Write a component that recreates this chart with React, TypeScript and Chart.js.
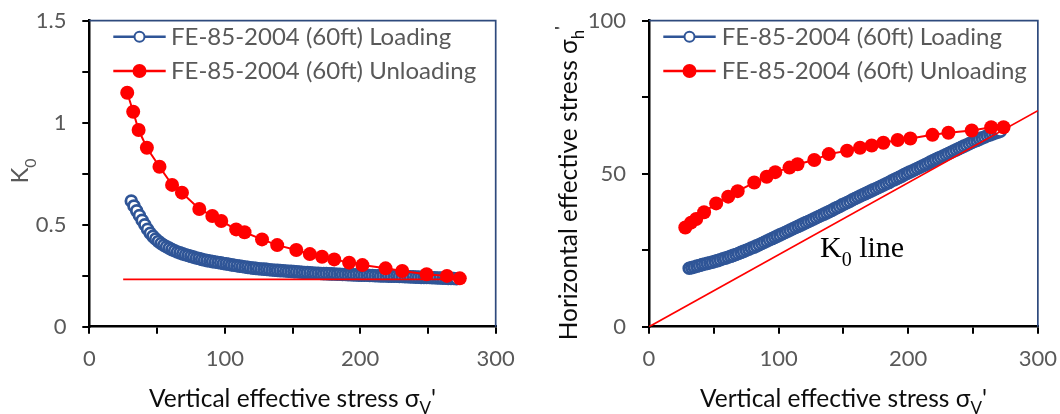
import React, { useEffect, useRef } from 'react';
import { Chart, registerables } from 'chart.js';

Chart.register(...registerables);

// ---------- DATA ----------
const legendLabels = ['FE-85-2004 (60ft) Loading', 'FE-85-2004 (60ft) Unloading'];

// Loading (open blue circles)
const loadSigmaV = [
  31, 33, 35, 37, 39, 41, 43, 45, 47, 49,
  51, 53, 55, 57, 59, 61, 63, 65, 67, 69,
  71, 73, 75, 77, 79, 81, 83, 85, 87, 89,
  91, 93, 95, 97, 99, 101, 103, 105, 107, 109,
  111, 113, 115, 117, 119, 121, 123, 125, 127, 129,
  131, 133, 135, 137, 139, 141, 143, 145, 147, 149,
  151, 153, 155, 157, 159, 161, 163, 165, 167, 169,
  171, 173, 175, 177, 179, 181, 183, 185, 187, 189,
  191, 193, 195, 197, 199, 201, 203, 205, 207, 209,
  211, 213, 215, 217, 219, 221, 223, 225, 227, 229,
  231, 233, 235, 237, 239, 241, 243, 245, 247, 249,
  251, 253, 255, 257, 259, 261, 263, 265, 267, 269,
  271,
];
const loadK = [
  0.616, 0.592, 0.568, 0.545, 0.522, 0.5, 0.478, 0.458, 0.443, 0.43,
  0.418, 0.408, 0.399, 0.392, 0.385, 0.378, 0.372, 0.366, 0.362, 0.357,
  0.353, 0.349, 0.345, 0.341, 0.337, 0.334, 0.33, 0.327, 0.324, 0.322,
  0.319, 0.317, 0.315, 0.313, 0.31, 0.308, 0.306, 0.303, 0.301, 0.299,
  0.297, 0.295, 0.293, 0.291, 0.289, 0.287, 0.286, 0.284, 0.283, 0.282,
  0.281, 0.279, 0.278, 0.277, 0.276, 0.275, 0.274, 0.273, 0.272, 0.271,
  0.27, 0.269, 0.268, 0.267, 0.266, 0.265, 0.264, 0.263, 0.262, 0.262,
  0.261, 0.26, 0.26, 0.259, 0.259, 0.258, 0.257, 0.257, 0.256, 0.256,
  0.255, 0.255, 0.254, 0.254, 0.253, 0.253, 0.252, 0.252, 0.251, 0.251,
  0.25, 0.25, 0.249, 0.249, 0.249, 0.248, 0.248, 0.247, 0.247, 0.246,
  0.246, 0.245, 0.245, 0.244, 0.244, 0.243, 0.243, 0.242, 0.242, 0.241,
  0.241, 0.24, 0.24, 0.239, 0.239, 0.238, 0.238, 0.237, 0.237, 0.236,
  0.235,
];
const loadSigmaH = [
  19.1, 19.3, 19.5, 19.8, 20.0, 20.3, 20.5, 20.7, 20.9, 21.1,
  21.4, 21.6, 21.9, 22.2, 22.4, 22.7, 23.0, 23.3, 23.6, 23.9,
  24.3, 24.6, 25.0, 25.3, 25.7, 26.0, 26.4, 26.8, 27.2, 27.6,
  28.0, 28.4, 28.8, 29.2, 29.6, 30.0, 30.4, 30.8, 31.2, 31.6,
  32.0, 32.4, 32.8, 33.2, 33.6, 34.0, 34.4, 34.8, 35.2, 35.6,
  36.0, 36.4, 36.8, 37.2, 37.6, 38.0, 38.5, 38.9, 39.3, 39.8,
  40.2, 40.6, 41.0, 41.5, 41.9, 42.3, 42.7, 43.1, 43.5, 43.9,
  44.3, 44.7, 45.1, 45.5, 45.9, 46.3, 46.7, 47.1, 47.6, 48.0,
  48.4, 48.8, 49.2, 49.7, 50.1, 50.5, 50.9, 51.3, 51.7, 52.1,
  52.5, 52.9, 53.3, 53.8, 54.2, 54.6, 55.0, 55.4, 55.8, 56.2,
  56.6, 57.0, 57.4, 57.8, 58.2, 58.6, 59.0, 59.4, 59.8, 60.2,
  60.6, 60.9, 61.3, 61.7, 62.0, 62.4, 62.7, 63.0, 63.3, 63.6,
  63.9,
];

// Unloading (filled red circles)
const unloadSigmaV = [28, 32.4, 36.4, 42.5, 51.8, 61.1, 68.4, 81.2, 90.8, 97.4, 108.4, 114.6, 127.5, 138.7, 152.8, 162.8, 171.8, 180.8, 191.8, 201.6, 218.7, 231, 249, 264, 273.5];
const unloadK = [1.147, 1.054, 0.964, 0.877, 0.784, 0.695, 0.657, 0.577, 0.543, 0.518, 0.477, 0.463, 0.428, 0.4, 0.376, 0.356, 0.343, 0.33, 0.314, 0.302, 0.286, 0.273, 0.257, 0.249, 0.237];
const unloadSigmaH = [32.4, 34.0, 35.2, 37.4, 40.3, 42.5, 44.3, 47.1, 49.0, 50.5, 52.0, 53.1, 54.5, 56.4, 57.5, 58.5, 59.2, 60.1, 61.0, 61.5, 62.7, 63.4, 64.1, 65.2, 65.2];

// K0 lines
const k0LeftX = [25, 272];
const k0LeftY = [0.232, 0.232];
const k0RightX = [0, 300];
const k0RightY = [0, 70.6];

// Axes
const xMin = 0, xMax = 300, xStep = 50, xLabelEvery = 100;
const yLeftMax = 1.5, yLeftStep = 0.25, yLeftLabelEvery = 0.5;
const yRightMax = 100, yRightStep = 25, yRightLabelEvery = 50;

// ---------- STYLE ----------
const BLUE = '#2F5597';
const RED = '#FF0000';
const GREY = '#595959';
const NAVY = '#2E4A7D';
const SANS = 'Lato';
const W = 530, H = 414;

type Seg = { t: string; sub?: boolean; sup?: boolean };

function drawRich(ctx: CanvasRenderingContext2D, segs: Seg[], x: number, y: number, rot: number,
  family: string, size: number, color: string, align: 'center' | 'left') {
  ctx.save();
  ctx.translate(x, y);
  ctx.rotate(rot);
  ctx.fillStyle = color;
  ctx.textBaseline = 'alphabetic';
  ctx.textAlign = 'left';
  const fontOf = (s: Seg) => `${s.sub || s.sup ? Math.round(size * 0.68) : size}px ${family}`;
  const widths = segs.map((s) => { ctx.font = fontOf(s); return ctx.measureText(s.t).width; });
  const total = widths.reduce((a, b) => a + b, 0);
  let cx = align === 'center' ? -total / 2 : 0;
  segs.forEach((s, i) => {
    ctx.font = fontOf(s);
    const dy = s.sub ? size * 0.3 : s.sup ? -size * 0.35 : 0;
    ctx.fillText(s.t, cx, dy);
    cx += widths[i];
  });
  ctx.restore();
}

function drawLegend(ctx: CanvasRenderingContext2D, x0: number, x1: number, textX: number) {
  const rows = [
    { y: 36.7, base: 45, color: BLUE, open: true, r: 5, label: legendLabels[0] },
    { y: 71, base: 79.3, color: RED, open: false, r: 7, label: legendLabels[1] },
  ];
  rows.forEach((row) => {
    ctx.save();
    ctx.strokeStyle = row.color;
    ctx.lineWidth = 2.5;
    ctx.beginPath();
    ctx.moveTo(x0, row.y);
    ctx.lineTo(x1, row.y);
    ctx.stroke();
    ctx.beginPath();
    ctx.arc((x0 + x1) / 2, row.y, row.r, 0, Math.PI * 2);
    if (row.open) {
      ctx.fillStyle = '#fff';
      ctx.fill();
      ctx.lineWidth = 2;
      ctx.stroke();
    } else {
      ctx.fillStyle = row.color;
      ctx.fill();
    }
    ctx.fillStyle = GREY;
    ctx.font = `24px ${SANS}`;
    ctx.textAlign = 'left';
    ctx.textBaseline = 'alphabetic';
    ctx.fillText(row.label, textX, row.base);
    ctx.restore();
  });
}

function isMultiple(v: number, m: number) {
  const q = v / m;
  return Math.abs(q - Math.round(q)) < 1e-6;
}

type Side = 'left' | 'right';

function makeConfig(side: Side): any {
  const isLeft = side === 'left';
  const yMax = isLeft ? yLeftMax : yRightMax;
  const yStep = isLeft ? yLeftStep : yRightStep;
  const yEvery = isLeft ? yLeftLabelEvery : yRightLabelEvery;
  const chartLeft = isLeft ? 89.3 : 119;
  const chartRight = isLeft ? 495.7 : 509;
  const top = 20.7;
  const bottom = 326.7;
  const yLabelRight = isLeft ? 66.5 : 96;

  const loadY = isLeft ? loadK : loadSigmaH;
  const unloadY = isLeft ? unloadK : unloadSigmaH;
  const k0X = isLeft ? k0LeftX : k0RightX;
  const k0Y = isLeft ? k0LeftY : k0RightY;

  const decor = {
    id: 'decor' + side,
    beforeDatasetsDraw(chart: any) {
      const { ctx, chartArea } = chart;
      ctx.save();
      ctx.strokeStyle = NAVY;
      ctx.lineWidth = 1.7;
      ctx.beginPath();
      ctx.moveTo(chartArea.left, chartArea.top);
      ctx.lineTo(chartArea.right, chartArea.top);
      ctx.lineTo(chartArea.right, chartArea.bottom);
      ctx.stroke();
      ctx.restore();
    },
    afterDraw(chart: any) {
      const { ctx, chartArea } = chart;
      const xs = chart.scales.x;
      const ys = chart.scales.y;
      // tick labels
      ctx.save();
      ctx.fillStyle = GREY;
      ctx.font = `22px ${SANS}`;
      ctx.textBaseline = 'alphabetic';
      ctx.textAlign = 'center';
      xs.ticks.forEach((t: any) => {
        if (isMultiple(t.value, xLabelEvery)) {
          ctx.fillText(String(t.value), xs.getPixelForValue(t.value), 365.7);
        }
      });
      ctx.textAlign = 'right';
      ys.ticks.forEach((t: any) => {
        if (isMultiple(t.value, yEvery)) {
          ctx.fillText(String(Math.round(t.value * 100) / 100), yLabelRight, ys.getPixelForValue(t.value) + 7.7);
        }
      });
      ctx.restore();

      const cxMid = (chartArea.left + chartArea.right) / 2;
      drawRich(ctx, [{ t: 'Vertical effective stress σ' }, { t: 'V', sub: true }, { t: "'" }],
        cxMid, 407, 0, SANS, 24.5, '#0D0D0D', 'center');
      if (isLeft) {
        drawRich(ctx, [{ t: 'K' }, { t: '0', sub: true }], 28.3, 171, -Math.PI / 2, SANS, 24, GREY, 'center');
        drawLegend(ctx, 113.3, 165.7, 171);
      } else {
        drawRich(ctx, [{ t: 'Horizontal effective stress σ' }, { t: 'h', sub: true }, { t: "'", sup: true }],
          47, 183.3, -Math.PI / 2, SANS, 24.5, '#0D0D0D', 'center');
        drawLegend(ctx, 133.3, 185.7, 191.7);
        drawRich(ctx, [{ t: 'K' }, { t: '0', sub: true }, { t: ' line' }], 290, 256.7, 0,
          '"Liberation Serif", "Times New Roman", serif', 30, '#000', 'left');
      }
    },
  };

  const hidden = 'rgba(0,0,0,0)';

  return {
    type: 'scatter',
    data: {
      datasets: [
        {
          label: legendLabels[1],
          data: unloadSigmaV.map((x, i) => ({ x, y: unloadY[i] })),
          showLine: true,
          borderColor: RED,
          borderWidth: 2,
          pointRadius: 7,
          pointBackgroundColor: RED,
          pointBorderColor: RED,
          pointBorderWidth: 0,
        },
        {
          label: 'K0 line',
          data: k0X.map((x, i) => ({ x, y: k0Y[i] })),
          showLine: true,
          borderColor: RED,
          borderWidth: 1.8,
          pointRadius: 0,
        },
        {
          label: legendLabels[0],
          data: loadSigmaV.map((x, i) => ({ x, y: loadY[i] })),
          showLine: true,
          borderColor: BLUE,
          borderWidth: 2,
          pointRadius: 5.4,
          pointBackgroundColor: '#FFFFFF',
          pointBorderColor: BLUE,
          pointBorderWidth: 2.8,
        },
      ],
    },
    options: {
      animation: false,
      responsive: false,
      devicePixelRatio: 1,
      layout: { padding: { left: 0, top: top, right: W - chartRight, bottom: 0 } },
      plugins: { legend: { display: false }, tooltip: { enabled: false } },
      scales: {
        x: {
          type: 'linear',
          min: xMin,
          max: xMax,
          afterFit: (s: any) => { s.height = H - bottom; },
          ticks: {
            stepSize: xStep,
            autoSkip: false,
            maxRotation: 0,
            color: hidden,
            font: { family: SANS, size: 22 },
            callback: (v: number) => String(v),
          },
          grid: { display: true, drawOnChartArea: false, drawTicks: true, tickLength: 7, color: '#000', lineWidth: 2 },
          border: { display: true, color: '#000', width: 2.5 },
          title: { display: false },
        },
        y: {
          type: 'linear',
          min: 0,
          max: yMax,
          afterFit: (s: any) => { s.width = chartLeft; },
          ticks: {
            stepSize: yStep,
            autoSkip: false,
            color: hidden,
            font: { family: SANS, size: 22 },
            callback: (v: number) => String(v),
          },
          grid: { display: true, drawOnChartArea: false, drawTicks: true, tickLength: 7, color: '#000', lineWidth: 2 },
          border: { display: true, color: '#000', width: 2.5 },
          title: { display: false },
        },
      },
    },
    plugins: [decor],
  };
}

function ChartCanvas({ side, left }: { side: Side; left: number }) {
  const ref = useRef<HTMLCanvasElement | null>(null);
  useEffect(() => {
    if (!ref.current) return;
    const chart = new Chart(ref.current, makeConfig(side));
    return () => chart.destroy();
  }, [side]);
  return (
    <canvas
      ref={ref}
      width={W}
      height={H}
      style={{ position: 'absolute', left, top: 0, width: W, height: H, display: 'block' }}
    />
  );
}

export default function App() {
  return (
    <div style={{ position: 'absolute', left: 0, top: 0, width: 1060, height: 414, background: '#fff', overflow: 'hidden' }}>
      <ChartCanvas side="left" left={0} />
      <ChartCanvas side="right" left={530} />
    </div>
  );
}
